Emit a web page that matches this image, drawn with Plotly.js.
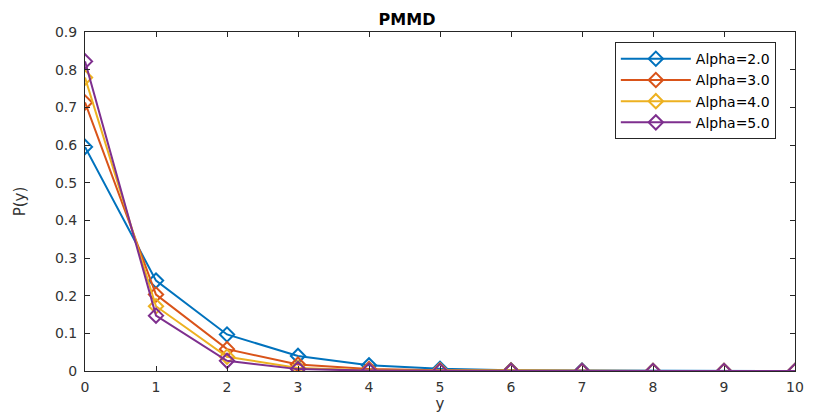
<!DOCTYPE html>
<html>
<head>
<meta charset="utf-8">
<script src="https://cdn.plot.ly/plotly-3.0.1.min.js"></script>
<style>html,body{margin:0;padding:0;background:#fff;}#chart{width:814px;height:413px;}</style>
</head>
<body>
<div id="chart"></div>
<script>
const yValues = [0, 1, 2, 3, 4, 5, 6, 7, 8, 9, 10];
const alpha2 = [0.595, 0.240, 0.097, 0.040, 0.015, 0.006, 0.002, 0.001, 0.000, 0.000, 0.000];
const alpha3 = [0.713, 0.203, 0.058, 0.017, 0.005, 0.002, 0.001, 0.000, 0.000, 0.000, 0.000];
const alpha4 = [0.779, 0.172, 0.038, 0.008, 0.002, 0.001, 0.000, 0.000, 0.000, 0.000, 0.000];
const alpha5 = [0.822, 0.147, 0.027, 0.005, 0.001, 0.000, 0.000, 0.000, 0.000, 0.000, 0.000];
const seriesNames = ['Alpha=2.0', 'Alpha=3.0', 'Alpha=4.0', 'Alpha=5.0'];
const seriesColors = ['#0072BD', '#D95319', '#EDB120', '#7E2F8E'];
const xTicks = [0, 1, 2, 3, 4, 5, 6, 7, 8, 9, 10];
const yTicks = [0, 0.1, 0.2, 0.3, 0.4, 0.5, 0.6, 0.7, 0.8, 0.9];

const allSeries = [alpha2, alpha3, alpha4, alpha5];
const traces = allSeries.map((vals, i) => ({
  x: yValues, y: vals, name: seriesNames[i], type: 'scatter', mode: 'lines+markers',
  line: {color: seriesColors[i], width: 2},
  marker: {symbol: 'diamond-open', size: 11, color: seriesColors[i], line: {width: 2, color: seriesColors[i]}}
}));

const fontFam = 'DejaVu Sans, Verdana, sans-serif';
const layout = {
  width: 814, height: 413,
  margin: {l: 85, r: 19, t: 32, b: 42},
  paper_bgcolor: '#fff', plot_bgcolor: '#fff',
  font: {family: fontFam, size: 14, color: '#333333'},
  title: {text: '<b>PMMD</b>', font: {family: fontFam, size: 16, color: '#000'}, x: 0.5, xanchor: 'center', y: 0.954, yanchor: 'middle'},
  showlegend: true,
  legend: {x: 0.973, xanchor: 'right', y: 0.97, yanchor: 'top', bordercolor: '#262626', borderwidth: 1, bgcolor: '#fff',
           font: {family: fontFam, size: 14, color: '#000'}, tracegroupgap: 0, itemwidth: 70},
  xaxis: {range: [0, 10], tickvals: xTicks, ticks: 'inside', ticklen: 5, tickcolor: '#262626',
          showline: true, linecolor: '#262626', linewidth: 1, mirror: 'ticks', showgrid: false, zeroline: false,
          ticklabelstandoff: 3,
          title: {text: 'y', font: {family: fontFam, size: 15, color: '#333333'}, standoff: 5},
          tickfont: {size: 14, color: '#333333'}},
  yaxis: {range: [0, 0.9], tickvals: yTicks, ticks: 'inside', ticklen: 5, tickcolor: '#262626',
          showline: true, linecolor: '#262626', linewidth: 1, mirror: 'ticks', showgrid: false, zeroline: false,
          ticklabelstandoff: 4,
          title: {text: 'P(y)', font: {family: fontFam, size: 15, color: '#333333'}, standoff: 25},
          tickfont: {size: 14, color: '#333333'}}
};
Plotly.newPlot('chart', traces, layout, {displayModeBar: false, staticPlot: true});
</script>
</body>
</html>
